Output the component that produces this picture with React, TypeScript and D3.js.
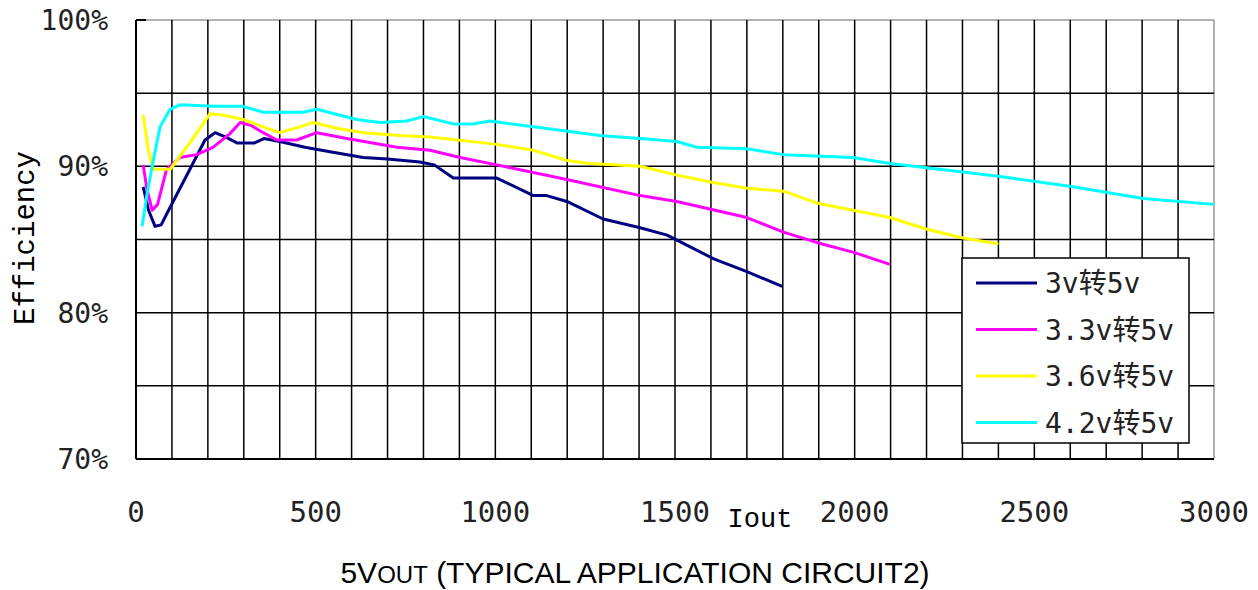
import * as d3 from 'd3';

// load current (mA) vs efficiency (%)
const iout3v = [20, 35, 53, 70, 95, 150, 192, 220, 250, 281, 330, 356, 400, 470, 540, 632, 700, 790, 830, 883, 1004, 1106, 1143, 1199, 1300, 1403, 1478, 1606, 1700, 1798];
const eff3v = [88.6, 87.0, 85.9, 86.0, 87.2, 89.8, 91.8, 92.3, 92.0, 91.6, 91.6, 91.9, 91.7, 91.3, 91.0, 90.6, 90.5, 90.3, 90.1, 89.2, 89.2, 88.0, 88.0, 87.6, 86.4, 85.8, 85.3, 83.7, 82.8, 81.8];

const iout33v = [20, 30, 45, 60, 85, 122, 169, 214, 260, 290, 320, 354, 392, 447, 503, 587, 726, 818, 902, 1004, 1199, 1403, 1505, 1700, 1802, 1894, 2000, 2098];
const eff33v = [90.1, 88.5, 87.0, 87.4, 89.8, 90.6, 90.8, 91.3, 92.2, 93.0, 92.8, 92.3, 91.8, 91.8, 92.3, 91.9, 91.3, 91.1, 90.6, 90.1, 89.1, 88.0, 87.6, 86.5, 85.5, 84.8, 84.1, 83.3];

const iout36v = [20, 35, 48, 95, 150, 206, 243, 298, 354, 400, 456, 493, 559, 632, 735, 818, 1004, 1106, 1199, 1263, 1403, 1505, 1606, 1700, 1802, 1894, 1996, 2098, 2201, 2302, 2400];
const eff36v = [93.5, 91.0, 89.8, 89.8, 91.6, 93.6, 93.5, 93.2, 92.7, 92.3, 92.7, 93.0, 92.6, 92.3, 92.1, 92.0, 91.5, 91.1, 90.4, 90.2, 90.0, 89.4, 88.9, 88.5, 88.3, 87.5, 87.0, 86.5, 85.7, 85.1, 84.7];

const iout42v = [17, 30, 45, 67, 95, 122, 214, 298, 354, 400, 465, 503, 614, 679, 754, 799, 883, 939, 985, 1106, 1291, 1403, 1505, 1561, 1700, 1802, 1996, 2098, 2201, 2405, 2608, 2803, 3000];
const eff42v = [85.9, 88.0, 90.0, 92.7, 93.9, 94.2, 94.1, 94.1, 93.7, 93.7, 93.7, 93.9, 93.2, 93.0, 93.1, 93.4, 92.9, 92.9, 93.1, 92.7, 92.1, 91.9, 91.7, 91.3, 91.2, 90.8, 90.6, 90.2, 89.9, 89.3, 88.6, 87.8, 87.4];

const seriesNames = ['3v转5v', '3.3v转5v', '3.6v转5v', '4.2v转5v'];
const seriesColours = ['#000080', '#ff00ff', '#ffff00', '#00ffff'];
const xTicks = [0, 500, 1000, 1500, 2000, 2500, 3000];
const yTicks = [70, 80, 90, 100];

const W = 1258;
const H = 590;
const margin = { left: 136, right: 44, top: 20, bottom: 131 };

export default function App() {
  const x = d3.scaleLinear([0, 3000], [margin.left, W - margin.right]);
  const y = d3.scaleLinear([70, 100], [H - margin.bottom, margin.top]);

  const series = [
    d3.zip(iout3v, eff3v),
    d3.zip(iout33v, eff33v),
    d3.zip(iout36v, eff36v),
    d3.zip(iout42v, eff42v),
  ];
  const line = d3
    .line<number[]>()
    .x((d) => x(d[0]))
    .y((d) => y(d[1]));

  const vGrid = d3.range(100, 3000, 100);
  const hGrid = d3.range(75, 100, 5);
  const [x0, x1] = x.range();
  const [y0, y1] = y.range();

  const legend = { x: 962, y: 258, w: 227, h: 185 };

  return (
    <svg
      width={W}
      height={H}
      style={{ position: 'absolute', left: 0, top: 0, background: '#fff' }}
    >
      {/* frame: grey top/right, black left/bottom */}
      <line x1={x0} x2={x1} y1={y1} y2={y1} stroke="#999" strokeWidth={1.5} />
      <line x1={x1} x2={x1} y1={y1} y2={y0} stroke="#999" strokeWidth={1.5} />
      {vGrid.map((v) => (
        <line key={'v' + v} x1={x(v)} x2={x(v)} y1={y1} y2={y0} stroke="#000" strokeWidth={1.5} />
      ))}
      {hGrid.map((v) => (
        <line key={'h' + v} x1={x0} x2={x1} y1={y(v)} y2={y(v)} stroke="#000" strokeWidth={1.5} />
      ))}
      <line x1={x0} x2={x0} y1={y1} y2={y0} stroke="#000" strokeWidth={2} />
      <line x1={x0} x2={x1} y1={y0} y2={y0} stroke="#000" strokeWidth={2} />
      <line x1={x0} x2={x0 + 10} y1={y1} y2={y1} stroke="#000" strokeWidth={2} />

      {series.map((s, i) => (
        <path
          key={i}
          d={line(s) ?? ''}
          fill="none"
          stroke={seriesColours[i]}
          strokeWidth={3}
          strokeLinejoin="round"
        />
      ))}

      <g fontFamily="'DejaVu Sans Mono', monospace" fill="#222">
        {yTicks.map((t) => (
          <text key={t} x={108} y={y(t)} dy="0.36em" textAnchor="end" fontSize={28}>
            {t}%
          </text>
        ))}
        {xTicks.map((t) => (
          <text key={t} x={x(t)} y={522} textAnchor="middle" fontSize={29}>
            {t}
          </text>
        ))}
      </g>

      <text
        transform="translate(34,238) rotate(-90)"
        textAnchor="middle"
        fontFamily="'Liberation Mono', monospace"
        fontSize={29}
      >
        Efficiency
      </text>
      <text x={760} y={527} textAnchor="middle" fontFamily="'Liberation Mono', monospace" fontSize={27}>
        Iout
      </text>

      <rect x={legend.x} y={legend.y} width={legend.w} height={legend.h} fill="#fff" stroke="#000" strokeWidth={1.5} />
      {seriesNames.map((name, i) => {
        const ly = legend.y + 25 + i * 46.5;
        return (
          <g key={name}>
            <line x1={976} x2={1037} y1={ly} y2={ly} stroke={seriesColours[i]} strokeWidth={3} />
            <text
              x={1045}
              y={ly}
              dy="0.36em"
              fontFamily="'DejaVu Sans Mono', 'Noto Sans CJK SC', monospace"
              fontSize={28}
              fill="#222"
            >
              {name}
            </text>
          </g>
        );
      })}

      <text x={635} y={583} textAnchor="middle" fontFamily="'Liberation Sans', Arial, sans-serif" fontSize={30}>
        5V<tspan fontSize={24}>OUT</tspan> (TYPICAL APPLICATION CIRCUIT2)
      </text>
    </svg>
  );
}
